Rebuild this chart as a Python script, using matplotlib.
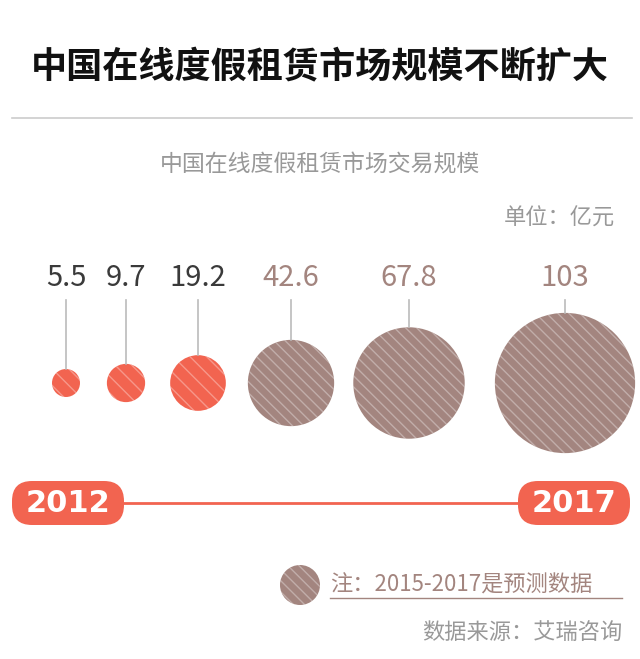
import matplotlib
matplotlib.use("Agg")
import matplotlib.pyplot as plt
from matplotlib.patches import Circle, FancyBboxPatch
import numpy as np

plt.rcParams['font.family'] = ['Noto Sans CJK SC', 'DejaVu Sans']
plt.rcParams['hatch.linewidth'] = 1.0

years = ["2012", "2017"]
values = [5.5, 9.7, 19.2, 42.6, 67.8, 103]
labels = ["5.5", "9.7", "19.2", "42.6", "67.8", "103"]
forecast = [False, False, False, True, True, True]

RED = "#f26450"
BROWN = "#a3857f"
DARK = "#3a3a3a"
GRAY = "#999999"

fig = plt.figure(figsize=(6.4, 6.59), dpi=100)
ax = fig.add_axes([0, 0, 1, 1])
ax.set_xlim(0, 640)
ax.set_ylim(659, 0)
ax.axis("off")

ax.text(320, 68, "中国在线度假租赁市场规模不断扩大", ha="center", va="center",
        fontsize=26, fontweight="bold", color="#111111")
ax.plot([12, 632], [118, 118], color="#cccccc", lw=1.2)
ax.text(320, 165, "中国在线度假租赁市场交易规模", ha="center", va="center",
        fontsize=16.5, color=GRAY)
ax.text(615, 218, "单位：亿元", ha="right", va="center", fontsize=16, color=GRAY)

xs = [66, 126, 198, 291, 409, 565]
cy = 383
for x, v, lab, f in zip(xs, values, labels, forecast):
    r = 5.48 * v ** 0.55
    col = BROWN if f else RED
    ax.add_patch(Circle((x, cy), r, facecolor=col, edgecolor="#ffffff55", lw=0,
                        hatch="\\\\\\" if f else "\\\\"))
    ax.plot([x, x], [300, cy - r], color="#bbbbbb", lw=1.2)
    ax.text(x, 278, lab, ha="center", va="center", fontsize=21,
            color=BROWN if f else DARK)

ax.plot([120, 520], [503, 503], color=RED, lw=2)
for x0, yr in [(12, years[0]), (518, years[1])]:
    ax.add_patch(FancyBboxPatch((x0, 481), 112, 44,
                                boxstyle="round,pad=0,rounding_size=20",
                                facecolor=RED, edgecolor=RED, lw=0))
    ax.text(x0 + 56, 503, yr, ha="center", va="center", fontsize=22,
            fontweight="bold", color="white", family="DejaVu Sans")

ax.add_patch(Circle((300, 585), 20, facecolor=BROWN, edgecolor="#ffffff55", lw=0, hatch="\\\\\\"))
ax.text(330, 585, "注：2015-2017是预测数据", ha="left", va="center", fontsize=16, color=BROWN)
ax.plot([330, 622], [598, 598], color=BROWN, lw=1)
ax.text(622, 632, "数据来源：艾瑞咨询", ha="right", va="center", fontsize=16, color=GRAY)

fig.savefig("out.png", dpi=100, facecolor="white")
